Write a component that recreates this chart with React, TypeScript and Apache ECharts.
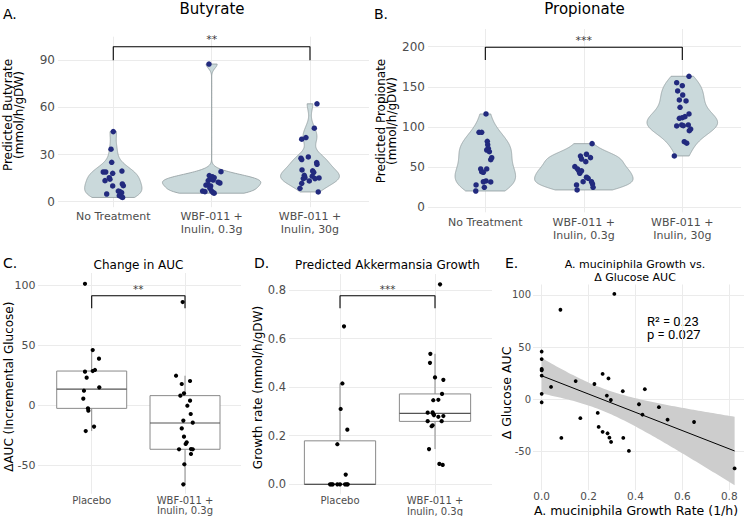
import React, { useEffect, useRef } from "react";
import * as echarts from "echarts";

// ---------- categories & ticks ----------
const AB_GROUPS = ["No Treatment", "WBF-011 +\nInulin, 0.3g", "WBF-011 +\nInulin, 30g"];
const CD_GROUPS = ["Placebo", "WBF-011 +\nInulin, 0.3g"];
const butyrateTicks = [0, 30, 60, 90];
const propionateTicks = [0, 50, 100, 150, 200];
const aucTicks = [-50, 0, 50, 100];
const growthTicks = [0, 0.2, 0.4, 0.6, 0.8];
const scatterXTicks = [0, 0.2, 0.4, 0.6, 0.8];
const scatterYTicks = [-50, 0, 50, 100];

// ---------- Panel A: predicted butyrate ----------
const butyrateNoTreatment = [44.6, 33.4, 25.1, 18.9, 18.9, 18.1, 19.5, 15.3, 14.3, 13.4, 11.3, 10.2, 10, 4.9, 6.8, 6.4, 5.7, 3.8, 3.0, 2.7];
const butyrateNoTreatmentJitter = [0, -0.023, -0.016, -0.102, -0.077, -0.006, 0.088, -0.041, -0.034, -0.084, 0.092, 0.102, -0.006, -0.067, 0.051, 0.068, 0.085, 0.061, 0.085, 0.095];
const butyrateLowDose = [87.6, 19.1, 16.6, 15.9, 15.3, 13.4, 14.5, 13.8, 12.4, 11.9, 10.6, 10.6, 10, 8.5, 6.8, 6.4, 6.8, 5.7, 5.4];
const butyrateLowDoseJitter = [-0.027, 0.095, -0.024, 0.006, 0.026, -0.035, -0.007, 0.016, 0.067, 0.084, -0.058, -0.035, -0.01, -0.017, -0.092, -0.068, 0, 0.016, 0.026];
const butyrateHighDose = [62.3, 46.8, 39.8, 40.8, 27.7, 26.8, 28.5, 24.9, 23.8, 20.2, 19.6, 18.7, 16.8, 14.7, 15.3, 16.2, 14.7, 15.1, 13.2, 11.7, 8.5, 6.2];
const butyrateHighDoseJitter = [0.071, 0.044, -0.084, -0.041, -0.092, -0.084, -0.017, 0.068, 0.071, -0.081, 0.027, 0.038, -0.058, -0.068, -0.051, 0.023, 0.051, 0.092, -0.007, -0.084, -0.102, 0.084];

// ---------- Panel B: predicted propionate ----------
const propionateNoTreatment = [116.3, 93.5, 93.5, 82.3, 78.1, 73.6, 71.5, 69.4, 61.9, 59.5, 47.9, 47.9, 44.5, 43.8, 33, 32, 31.7, 28, 25.1, 20.5];
const propionateNoTreatmentJitter = [0.007, -0.064, -0.037, 0.02, 0.024, 0.03, 0.014, 0.041, 0.065, 0.055, -0.047, 0.014, -0.037, -0.02, 0.007, -0.02, 0.055, -0.094, -0.01, -0.097];
const propionateLowDose = [79.4, 66.2, 64, 62, 60.3, 57, 50.8, 47.9, 45.8, 45.6, 42.5, 37.6, 36.3, 32.1, 32.1, 29.2, 28, 25.1, 21.8];
const propionateLowDoseJitter = [0.084, 0.027, -0.034, 0.068, -0.023, 0.02, -0.091, -0.064, -0.051, -0.023, -0.041, 0.027, 0.044, -0.007, 0.078, 0.088, -0.074, 0.094, -0.068];
const propionateHighDose = [163.2, 155.2, 151.5, 144.9, 139.9, 133.7, 132.5, 124.6, 116.3, 113, 111.7, 110.9, 101.4, 102.6, 101.7, 102.6, 95.5, 97.6, 81.8, 79.9, 64.1];
const propionateHighDoseJitter = [0.068, -0.057, 0, -0.047, 0.004, -0.03, 0.038, -0.023, 0.068, 0.027, 0, -0.03, -0.057, -0.006, 0.01, 0.061, 0.071, 0.085, 0.02, 0.045, -0.081];

// ---------- Panels C, D, E: per-subject values ----------
const placeboAUC = [101, 45.8, 38.6, 29.2, 28.3, 27.8, 22.8, 14.7, 11.9, 5.3, -2.8, -4.7, -18, -21.7];
const placeboGrowth = [0.31, 0, 0, 0, 0, 0, 0, 0.225, 0.04, 0, 0, 0.415, 0.165, 0.65];
const placeboAUCJitter = [-0.072, 0.011, 0.078, 0.035, 0.011, -0.072, -0.054, 0.081, -0.083, -0.09, -0.04, -0.036, 0.025, -0.064];
const placeboGrowthJitter = [0.007, -0.105, -0.09, -0.077, -0.028, 0, 0.053, 0.077, 0.06, 0.07, 0.081, 0.025, -0.028, 0.042];
const wbfAUC = [85.8, 24.4, 17.5, 20, 9.7, 7.8, 3.6, -0.6, -7.5, -13, -14.7, -19.5, -26.4, -31.1, -32.5, -36.9, -36.7, -36.9, -40.8, -49.4, -66.1];
const wbfGrowth = [0.08, 0.26, 0.145, 0.285, 0.44, 0.346, 0.278, 0.295, 0.5, 0.239, 0.43, 0.537, 0.243, 0.26, 0.281, 0.084, 0.289, 0.348, 0.296, 0.372, 0.823];
const wbfAUCJitter = [-0.025, -0.096, -0.035, 0.054, -0.011, -0.05, 0.054, 0.025, 0.061, -0.018, 0.083, -0.035, -0.011, 0.018, 0.007, -0.064, 0.064, 0.083, 0.064, -0.007, -0.018];
const wbfGrowthJitter = [0.081, -0.077, -0.063, -0.011, 0, -0.018, 0.035, -0.077, -0.053, -0.035, 0.088, -0.049, -0.025, 0.07, 0.088, 0.046, -0.018, 0.035, -0.025, 0.074, 0.053];

// box summaries: [lower whisker, Q1, median, Q3, upper whisker]
const aucBoxStats = [
  [-21.7, -2.8, 13.3, 28.3, 45.8],
  [-66.1, -36.9, -15, 7.8, 24.4],
];
const growthBoxStats = [
  [0, 0, 0, 0.179, 0.415],
  [0.145, 0.259, 0.292, 0.372, 0.537],
];

// significance brackets
const sigButyrate = { from: 1, to: 3, top: 98.6, bottom: 90, label: "**" };
const sigPropionate = { from: 1, to: 3, top: 199.3, bottom: 183.5, label: "***" };
const sigAUC = { from: 1, to: 2, top: 91.1, bottom: 80.6, label: "**" };
const sigGrowth = { from: 1, to: 2, top: 0.776, bottom: 0.725, label: "***" };

const statsText = "R\u00B2 = 0.23\np = 0.027";

// ---------- styles ----------
const FONT = "DejaVu Sans";
const TICK = "#4D4D4D";
const GRIDC = "#EBEBEB";
const NAVY = "#222A7E";
const VIOLIN_FILL = "#CAD9DB";
const VIOLIN_STROKE = "#8F9B9D";
const BOX_LINE = "#8A8A8A";
const MEDIAN_LINE = "#555555";

function quantile7(sorted: number[], p: number) {
  const h = (sorted.length - 1) * p;
  const lo = Math.floor(h);
  const hi = Math.min(lo + 1, sorted.length - 1);
  return sorted[lo] + (h - lo) * (sorted[hi] - sorted[lo]);
}

function density(values: number[]) {
  const n = values.length;
  const s = [...values].sort((a, b) => a - b);
  const mean = s.reduce((a, b) => a + b, 0) / n;
  const sd = Math.sqrt(s.reduce((a, b) => a + (b - mean) ** 2, 0) / (n - 1));
  const iqr = quantile7(s, 0.75) - quantile7(s, 0.25);
  let lo = Math.min(sd, iqr / 1.34);
  if (!(lo > 0)) lo = sd || 1;
  const bw = 0.9 * lo * Math.pow(n, -0.2);
  const out: number[][] = [];
  const steps = 240;
  for (let i = 0; i <= steps; i++) {
    const y = s[0] + ((s[n - 1] - s[0]) * i) / steps;
    let d = 0;
    for (const v of s) {
      const z = (y - v) / bw;
      d += Math.exp(-0.5 * z * z);
    }
    d /= n * bw * Math.sqrt(2 * Math.PI);
    out.push([y, d]);
  }
  return out;
}

function violinSeries(groups: number[][], axis: number) {
  const dens = groups.map(density);
  const maxD = Math.max(...dens.map((d) => Math.max(...d.map((p) => p[1]))));
  const scale = 0.5 / maxD;
  return {
    type: "custom",
    xAxisIndex: axis,
    yAxisIndex: axis,
    silent: true,
    z: 1,
    data: groups.map((g, i) => [i + 1, g[0]]),
    renderItem: (params: any, api: any) => {
      const i = params.dataIndex;
      const x = i + 1;
      const d = dens[i];
      const right = d.map(([y, v]) => api.coord([x + v * scale, y]));
      const left = d
        .slice()
        .reverse()
        .map(([y, v]) => api.coord([x - v * scale, y]));
      return {
        type: "polygon",
        shape: { points: right.concat(left) },
        style: { fill: VIOLIN_FILL, stroke: VIOLIN_STROKE, lineWidth: 0.8 },
      };
    },
  };
}

function jitterPoints(groups: number[][], jitters: number[][]) {
  const pts: number[][] = [];
  groups.forEach((g, i) => g.forEach((v, k) => pts.push([i + 1 + jitters[i][k], v])));
  return pts;
}

function pointSeries(data: number[][], axis: number, color: string, size: number) {
  return {
    type: "scatter",
    xAxisIndex: axis,
    yAxisIndex: axis,
    data,
    symbol: "circle",
    symbolSize: size,
    itemStyle: { color, opacity: 1 },
    silent: true,
    z: 4,
  };
}

function boxSeries(stats: number[][], axis: number) {
  return {
    type: "custom",
    xAxisIndex: axis,
    yAxisIndex: axis,
    silent: true,
    z: 2,
    data: stats.map((s, i) => [i + 1, s[2]]),
    renderItem: (params: any, api: any) => {
      const i = params.dataIndex;
      const [low, q1, med, q3, high] = stats[i];
      const x = i + 1;
      const hw = 0.375;
      const a = api.coord([x, high]);
      const b = api.coord([x, q3]);
      const c = api.coord([x, q1]);
      const e = api.coord([x, low]);
      const tl = api.coord([x - hw, q3]);
      const br = api.coord([x + hw, q1]);
      const ml = api.coord([x - hw, med]);
      const mr = api.coord([x + hw, med]);
      const ls = { stroke: BOX_LINE, lineWidth: 1 };
      return {
        type: "group",
        children: [
          { type: "line", shape: { x1: a[0], y1: a[1], x2: b[0], y2: b[1] }, style: ls },
          { type: "line", shape: { x1: c[0], y1: c[1], x2: e[0], y2: e[1] }, style: ls },
          {
            type: "rect",
            shape: { x: tl[0], y: tl[1], width: br[0] - tl[0], height: br[1] - tl[1] },
            style: { fill: "#ffffff", stroke: BOX_LINE, lineWidth: 1 },
          },
          { type: "line", shape: { x1: ml[0], y1: ml[1], x2: mr[0], y2: mr[1] }, style: { stroke: MEDIAN_LINE, lineWidth: 1.2 } },
        ],
      };
    },
  };
}

function bracketSeries(sig: any, axis: number, fontSize: number) {
  return [
    {
      type: "line",
      xAxisIndex: axis,
      yAxisIndex: axis,
      data: [
        [sig.from, sig.bottom],
        [sig.from, sig.top],
        [sig.to, sig.top],
        [sig.to, sig.bottom],
      ],
      symbol: "none",
      lineStyle: { color: "#000000", width: 1.1 },
      silent: true,
      z: 5,
    },
    {
      type: "scatter",
      xAxisIndex: axis,
      yAxisIndex: axis,
      data: [[(sig.from + sig.to) / 2, sig.top]],
      symbolSize: 1,
      itemStyle: { color: "rgba(0,0,0,0)" },
      label: {
        show: true,
        position: "top",
        distance: 1,
        formatter: sig.label,
        color: "#000000",
        fontSize,
        fontFamily: FONT,
      },
      silent: true,
      z: 5,
    },
  ];
}

function xAxisDef(grid: number, min: number, max: number, ticks: number[], fmt: (v: number) => string, fontSize: number, lineHeight: number, margin: number) {
  return {
    type: "value",
    gridIndex: grid,
    min,
    max,
    axisLine: { show: false },
    axisTick: { show: false, customValues: ticks },
    axisLabel: { customValues: ticks, formatter: fmt, color: TICK, fontSize, lineHeight, fontFamily: FONT, margin },
    splitLine: { show: true, lineStyle: { color: GRIDC, width: 1 } },
  };
}

function yAxisDef(grid: number, min: number, max: number, ticks: number[], fmt: (v: number) => string, fontSize: number, margin: number) {
  return {
    type: "value",
    gridIndex: grid,
    min,
    max,
    axisLine: { show: false },
    axisTick: { show: false, customValues: ticks },
    axisLabel: { customValues: ticks, formatter: fmt, color: TICK, fontSize, fontFamily: FONT, margin },
    splitLine: { show: true, lineStyle: { color: GRIDC, width: 1 } },
  };
}

function txt(text: string, x: number, y: number, size: number, opts: any = {}) {
  return {
    type: "text",
    x,
    y,
    rotation: opts.rotation || 0,
    silent: true,
    style: {
      text,
      fill: opts.color || "#000000",
      fontSize: size,
      fontFamily: opts.font || FONT,
      align: opts.align || "center",
      verticalAlign: "middle",
      lineHeight: opts.lineHeight || size * 1.2,
    },
  };
}

function buildOption() {
  // regression for panel E
  const ex = [...placeboGrowth, ...wbfGrowth];
  const ey = [...placeboAUC, ...wbfAUC];
  const n = ex.length;
  const xbar = ex.reduce((a, b) => a + b, 0) / n;
  const ybar = ey.reduce((a, b) => a + b, 0) / n;
  let sxx = 0;
  let sxy = 0;
  for (let i = 0; i < n; i++) {
    sxx += (ex[i] - xbar) ** 2;
    sxy += (ex[i] - xbar) * (ey[i] - ybar);
  }
  const slope = sxy / sxx;
  const intercept = ybar - slope * xbar;
  let sse = 0;
  for (let i = 0; i < n; i++) sse += (ey[i] - (intercept + slope * ex[i])) ** 2;
  const sres = Math.sqrt(sse / (n - 2));
  const tCrit = 2.0345;
  const xMin = Math.min(...ex);
  const xMax = Math.max(...ex);
  const band: number[][] = [];
  for (let i = 0; i <= 80; i++) {
    const x = xMin + ((xMax - xMin) * i) / 80;
    const yh = intercept + slope * x;
    const se = sres * Math.sqrt(1 / n + (x - xbar) ** 2 / sxx);
    band.push([x, yh - tCrit * se, yh + tCrit * se]);
  }

  const butyrateGroups = [butyrateNoTreatment, butyrateLowDose, butyrateHighDose];
  const butyrateJit = [butyrateNoTreatmentJitter, butyrateLowDoseJitter, butyrateHighDoseJitter];
  const propGroups = [propionateNoTreatment, propionateLowDose, propionateHighDose];
  const propJit = [propionateNoTreatmentJitter, propionateLowDoseJitter, propionateHighDoseJitter];

  const abFmt = (v: number) => AB_GROUPS[Math.round(v) - 1] || "";
  const cdFmt = (v: number) => CD_GROUPS[Math.round(v) - 1] || "";
  const intFmt = (v: number) => String(v);
  const dec1 = (v: number) => v.toFixed(1);

  return {
    animation: false,
    backgroundColor: "#ffffff",
    grid: [
      { left: 58, top: 36.7, width: 311, height: 170.5, containLabel: false, outerBoundsMode: "none" },
      { left: 428, top: 29, width: 313, height: 183.3, containLabel: false, outerBoundsMode: "none" },
      { left: 38, top: 273, width: 203, height: 220.8, containLabel: false, outerBoundsMode: "none" },
      { left: 289, top: 274.1, width: 203, height: 220.2, containLabel: false, outerBoundsMode: "none" },
      { left: 533, top: 284.5, width: 211, height: 205.7, containLabel: false, outerBoundsMode: "none" },
    ],
    xAxis: [
      xAxisDef(0, 0.438, 3.6, [1, 2, 3], abFmt, 11, 13, 3),
      xAxisDef(1, 0.418, 3.596, [1, 2, 3], abFmt, 11, 13, 4),
      xAxisDef(2, 0.4245, 2.6, [1, 2], cdFmt, 10, 10.5, 1),
      xAxisDef(3, 0.463, 2.6, [1, 2], cdFmt, 10, 10.5, 1),
      xAxisDef(4, -0.037, 0.863, scatterXTicks, dec1, 10.5, 10, 1),
    ],
    yAxis: [
      yAxisDef(0, -3.5, 105, butyrateTicks, intFmt, 12, 3),
      yAxisDef(1, -6, 222, propionateTicks, intFmt, 12, 3),
      yAxisDef(2, -74, 110, aucTicks, intFmt, 11, 2.5),
      yAxisDef(3, -0.041, 0.865, growthTicks, dec1, 11.5, 3),
      yAxisDef(4, -87, 110, scatterYTicks, intFmt, 10, 2),
    ],
    series: [
      // A
      violinSeries(butyrateGroups, 0),
      pointSeries(jitterPoints(butyrateGroups, butyrateJit), 0, NAVY, 5.5),
      ...bracketSeries(sigButyrate, 0, 11),
      // B
      violinSeries(propGroups, 1),
      pointSeries(jitterPoints(propGroups, propJit), 1, NAVY, 5.5),
      ...bracketSeries(sigPropionate, 1, 11),
      // C
      boxSeries(aucBoxStats, 2),
      pointSeries(jitterPoints([placeboAUC, wbfAUC], [placeboAUCJitter, wbfAUCJitter]), 2, "#000000", 4.2),
      ...bracketSeries(sigAUC, 2, 10.5),
      // D
      boxSeries(growthBoxStats, 3),
      pointSeries(jitterPoints([placeboGrowth, wbfGrowth], [placeboGrowthJitter, wbfGrowthJitter]), 3, "#000000", 4.2),
      ...bracketSeries(sigGrowth, 3, 10.5),
      // E
      {
        type: "custom",
        xAxisIndex: 4,
        yAxisIndex: 4,
        silent: true,
        z: 1,
        data: [[xMin, intercept]],
        renderItem: (_p: any, api: any) => {
          const up = band.map((b) => api.coord([b[0], b[2]]));
          const lo = band
            .slice()
            .reverse()
            .map((b) => api.coord([b[0], b[1]]));
          return { type: "polygon", shape: { points: up.concat(lo) }, style: { fill: "#CDCDCD", stroke: "none" } };
        },
      },
      {
        type: "line",
        xAxisIndex: 4,
        yAxisIndex: 4,
        data: [
          [xMin, intercept + slope * xMin],
          [xMax, intercept + slope * xMax],
        ],
        symbol: "none",
        lineStyle: { color: "#000000", width: 1 },
        silent: true,
        z: 2,
      },
      pointSeries(ex.map((x, i) => [x, ey[i]]), 4, "#000000", 3.8),
    ],
    graphic: [
      txt("A.", 3, 13.5, 14, { align: "left" }),
      txt("Butyrate", 212, 9, 15),
      txt("Predicted Butyrate\n(mmol/h/gDW)", 13.4, 115, 12, { rotation: Math.PI / 2, lineHeight: 10.7 }),
      txt("B.", 374, 13.5, 14, { align: "left" }),
      txt("Propionate", 584.5, 9, 15),
      txt("Predicted Propionate\n(mmol/h/gDW)", 386.7, 121, 12, { rotation: Math.PI / 2, lineHeight: 10.5 }),
      txt("C.", 3, 263, 14, { align: "left" }),
      txt("Change in AUC", 138.5, 265, 12),
      txt("\u0394AUC (Incremental Glucose)", 9, 386.7, 12, { rotation: Math.PI / 2 }),
      txt("D.", 254, 263, 14, { align: "left" }),
      txt("Predicted Akkermansia Growth", 387.5, 265, 12),
      txt("Growth rate (mmol/h/gDW)", 258, 387.5, 12, { rotation: Math.PI / 2 }),
      txt("E.", 505, 262.5, 14, { align: "left" }),
      txt("A. muciniphila Growth vs.", 635, 264, 11, { lineHeight: 11 }),
      txt("\u0394 Glucose AUC", 635, 277.5, 11, { lineHeight: 11 }),
      txt("\u0394 Glucose AUC", 506, 393, 12.5, { rotation: Math.PI / 2 }),
      txt("A. muciniphila Growth Rate (1/h)", 636, 510, 12.5, { lineHeight: 12.5 }),
      txt(statsText, 647, 328, 13, { align: "left", font: "Roboto", lineHeight: 13.5 }),
    ],
  };
}

export default function App() {
  const ref = useRef<HTMLDivElement>(null);
  useEffect(() => {
    if (!ref.current) return;
    const chart = echarts.init(ref.current, undefined, { renderer: "svg" });
    chart.setOption(buildOption() as any);
    return () => chart.dispose();
  }, []);
  return (
    <div
      ref={ref}
      style={{ position: "fixed", left: 0, top: 0, width: 744, height: 516, background: "#ffffff" }}
    />
  );
}
